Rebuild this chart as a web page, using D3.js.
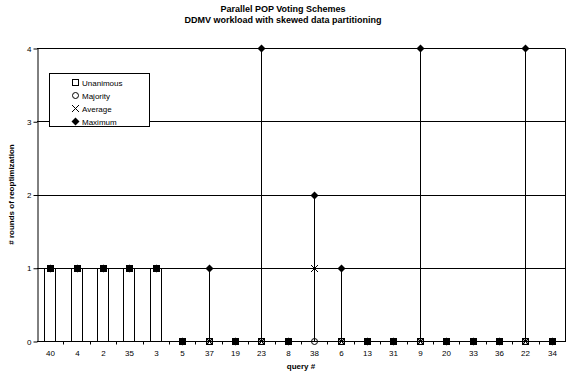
<!DOCTYPE html>
<html>
<head>
<meta charset="utf-8">
<script src="https://cdn.jsdelivr.net/npm/d3@7"></script>
<style>
  body { margin: 0; background: #fff; }
  text { font-family: "Liberation Sans", Arial, sans-serif; fill: #000; }
</style>
</head>
<body>
<div id="chart"></div>
<script>
'use strict';

var queries = ['40', '4', '2', '35', '3', '5', '37', '19', '23', '8', '38', '6', '13', '31', '9', '20', '33', '36', '22', '34'];
var unanimous = [1, 1, 1, 1, 1, 0, 0, 0, 0, 0, null, 0, 0, 0, 0, 0, 0, 0, 0, 0];
var majority  = [1, 1, 1, 1, 1, 0, 0, 0, 0, 0, 0, 0, 0, 0, 0, 0, 0, 0, 0, 0];
var average   = [1, 1, 1, 1, 1, 0, 0, 0, 0, 0, 1, 0, 0, 0, 0, 0, 0, 0, 0, 0];
var maximum   = [1, 1, 1, 1, 1, 0, 1, 0, 4, 0, 2, 1, 0, 0, 4, 0, 0, 0, 4, 0];
var yTicks = [0, 1, 2, 3, 4];
var legendNames = ['Unanimous', 'Majority', 'Average', 'Maximum'];

var width = 566,
    height = 374;

var plot = { left: 37, right: 565, top: 48, bottom: 341 };

var svg = d3.select('#chart').append('svg')
    .attr('width', width)
    .attr('height', height);

var x = d3.scaleBand()
    .domain(queries)
    .range([plot.left, plot.right]);

var y = d3.scaleLinear()
    .domain([0, 4])
    .range([plot.bottom, plot.top]);

function cx(i) { return Math.round(x(queries[i]) + x.bandwidth() / 2) + 0.5; }
function cy(v) { return Math.round(y(v)) + 0.5; }

// title
svg.append('text')
    .attr('x', 283).attr('y', 12)
    .attr('text-anchor', 'middle')
    .style('font-size', '9px').style('font-weight', 'bold')
    .text('Parallel POP Voting Schemes');
svg.append('text')
    .attr('x', 283).attr('y', 23)
    .attr('text-anchor', 'middle')
    .style('font-size', '9px').style('font-weight', 'bold')
    .text('DDMV workload with skewed data partitioning');

// gridlines
svg.append('g').selectAll('line')
    .data(yTicks.filter(function(d) { return d > 0; }))
    .enter().append('line')
    .attr('x1', plot.left).attr('x2', plot.right)
    .attr('y1', function(d) { return cy(d); })
    .attr('y2', function(d) { return cy(d); })
    .attr('stroke', '#000').attr('stroke-width', 1);

// right border
svg.append('line')
    .attr('x1', plot.right + 0.5).attr('x2', plot.right + 0.5)
    .attr('y1', cy(4)).attr('y2', cy(0))
    .attr('stroke', '#000');

// y axis
var yAxis = svg.append('g')
    .attr('transform', 'translate(' + (plot.left + 0.5) + ',0.5)')
    .call(d3.axisLeft(y).tickValues(yTicks).tickFormat(d3.format('d')).tickSize(4).tickSizeOuter(0));
yAxis.selectAll('text').style('font-size', '8px').attr('x', -6);
yAxis.selectAll('line, path').attr('stroke', '#000');

svg.append('text')
    .attr('transform', 'translate(14,' + ((plot.top + plot.bottom) / 2) + ') rotate(-90)')
    .attr('text-anchor', 'middle')
    .style('font-size', '8px').style('font-weight', 'bold')
    .text('# rounds of reoptimization');

// unanimous columns
var barW = 11;
svg.append('g').selectAll('rect')
    .data(unanimous.map(function(v, i) { return { v: v, i: i }; })
        .filter(function(d) { return d.v > 0; }))
    .enter().append('rect')
    .attr('x', function(d) { return cx(d.i) - 6; })
    .attr('y', function(d) { return cy(d.v); })
    .attr('width', barW)
    .attr('height', function(d) { return cy(0) - cy(d.v); })
    .attr('fill', '#fff').attr('stroke', '#000');

// high-low lines
svg.append('g').selectAll('line')
    .data(queries.map(function(q, i) {
        var vals = [unanimous[i], majority[i], average[i], maximum[i]]
            .filter(function(v) { return v !== null; });
        return { i: i, lo: d3.min(vals), hi: d3.max(vals) };
    }).filter(function(d) { return d.hi > d.lo; }))
    .enter().append('line')
    .attr('x1', function(d) { return cx(d.i); })
    .attr('x2', function(d) { return cx(d.i); })
    .attr('y1', function(d) { return cy(d.lo); })
    .attr('y2', function(d) { return cy(d.hi); })
    .attr('stroke', '#000');

// x axis
svg.append('line')
    .attr('x1', plot.left).attr('x2', plot.right + 1)
    .attr('y1', cy(0)).attr('y2', cy(0))
    .attr('stroke', '#000');
svg.append('g').selectAll('line')
    .data(queries.slice(1))
    .enter().append('line')
    .attr('x1', function(d) { return Math.round(x(d)) + 0.5; })
    .attr('x2', function(d) { return Math.round(x(d)) + 0.5; })
    .attr('y1', cy(0)).attr('y2', cy(0) + 3)
    .attr('stroke', '#000');
svg.append('g').selectAll('text')
    .data(queries)
    .enter().append('text')
    .attr('x', function(d, i) { return cx(i); })
    .attr('y', 356)
    .attr('text-anchor', 'middle')
    .style('font-size', '8px')
    .text(function(d) { return d; });
svg.append('text')
    .attr('x', 301).attr('y', 369)
    .attr('text-anchor', 'middle')
    .style('font-size', '8px').style('font-weight', 'bold')
    .text('query #');

// markers
function drawMarker(g, type, px, py) {
    if (type === 0) {
        g.append('rect').attr('x', px - 3).attr('y', py - 3).attr('width', 6).attr('height', 6)
            .attr('fill', 'none').attr('stroke', '#000');
    } else if (type === 1) {
        g.append('circle').attr('cx', px).attr('cy', py).attr('r', 3)
            .attr('fill', 'none').attr('stroke', '#000');
    } else if (type === 2) {
        g.append('path').attr('d', 'M' + (px - 3.5) + ',' + (py - 3.5) + 'L' + (px + 3.5) + ',' + (py + 3.5) +
            'M' + (px - 3.5) + ',' + (py + 3.5) + 'L' + (px + 3.5) + ',' + (py - 3.5))
            .attr('stroke', '#000').attr('fill', 'none');
    } else {
        g.append('path').attr('d', 'M' + px + ',' + (py - 4) + 'L' + (px + 4) + ',' + py +
            'L' + px + ',' + (py + 4) + 'L' + (px - 4) + ',' + py + 'Z')
            .attr('fill', '#000');
    }
}

var series = [unanimous, majority, average, maximum];
var mg = svg.append('g');
series.forEach(function(s, k) {
    s.forEach(function(v, i) {
        if (v === null) return;
        drawMarker(mg, k, cx(i), cy(v));
    });
});

// legend
var lg = svg.append('g');
lg.append('rect')
    .attr('x', 49.5).attr('y', 73.5).attr('width', 100).attr('height', 53)
    .attr('fill', '#fff').attr('stroke', '#000');
legendNames.forEach(function(name, k) {
    var ly = 82.5 + k * 13;
    drawMarker(lg, k, 75.5, ly);
    lg.append('text')
        .attr('x', 82).attr('y', ly + 3)
        .style('font-size', '8px')
        .text(name);
});
</script>
</body>
</html>
